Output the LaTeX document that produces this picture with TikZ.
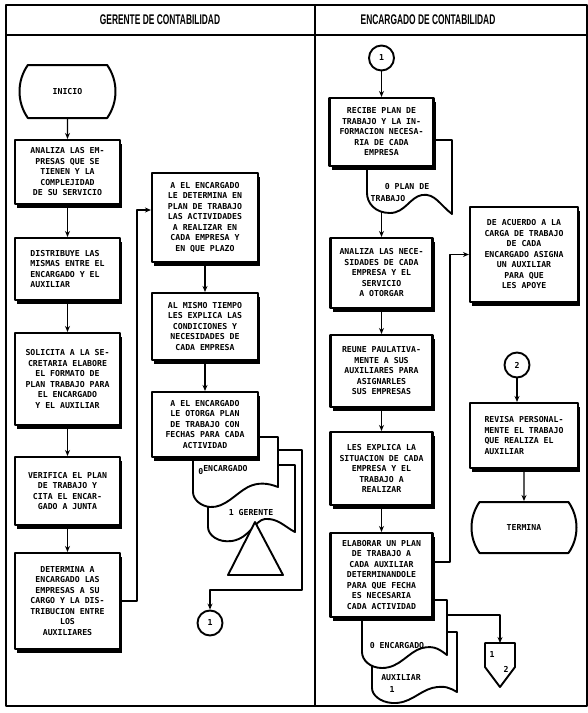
\documentclass[tikz,border=0pt]{standalone}
\usepackage{fontspec}
\usepackage{graphicx}
\setmainfont{DejaVu Sans}
\newfontfamily\boxfont{DejaVu Sans Mono}
\newfontfamily\headfont{Liberation Sans}
\usetikzlibrary{shapes.misc,shadows,arrows.meta,calc}
\begin{document}
\begin{tikzpicture}[x=1pt,y=-1pt,line join=round,
  txt/.style={font=\boxfont\bfseries\fontsize{8.2}{10.5}\selectfont, inner sep=0pt},
  proc/.style={txt, draw, line width=2.1pt, fill=white, align=center,
    drop shadow={shadow xshift=2pt, shadow yshift=-3.5pt, fill=black, opacity=1}},
  term/.style={txt, draw, line width=2pt, fill=white, rounded rectangle, rounded rectangle arc length=70},
  conncirc/.style={txt, draw, circle, line width=1.9pt, fill=white, minimum size=25pt},
  conn/.style={line width=1.4pt, -{Stealth[length=6pt,width=5pt]}},
  docline/.style={line width=1.9pt, fill=white},
  frameline/.style={line width=1.2pt},
  headtxt/.style={font=\headfont\bfseries\fontsize{14}{14}\selectfont, inner sep=0pt}]
\useasboundingbox (0,0) rectangle (588,713);
\fill[white] (0,0) rectangle (588,713);
% frame
\draw[frameline] (6,5) rectangle (587,706);
\draw[frameline] (6,35) -- (587,35);
\draw[frameline] (315,5) -- (315,706);
\node[headtxt] (h1) at (160,20) {\scalebox{0.6}[1]{GERENTE DE CONTABILIDAD}};
\node[headtxt] (h2) at (428,20) {\scalebox{0.6}[1]{ENCARGADO DE CONTABILIDAD}};

% ---------- left lane documents ----------
\draw[docline] (208,465) -- (295,465) -- (295,532) .. controls (285,527) and (278,518) .. (265,519) .. controls (255,520) and (250,538) .. (232,541) .. controls (218,543) and (208,535) .. (208,527) -- cycle;
\draw[docline] (193,437) -- (278,437) -- (278,487) .. controls (268,483) and (258,482) .. (248,487) .. controls (235,494) and (225,508) .. (210,507) .. controls (200,506) and (193,499) .. (193,492) -- cycle;
\draw[docline] (255,522) -- (283,575) -- (228,575) -- cycle;
\node[txt] (dA1) at (223,470) {\raisebox{-3pt}{0}ENCARGADO};
\node[txt] (dB1) at (251,513) {1 GERENTE};
\coordinate (dAr) at (278,450);

% ---------- left lane nodes ----------
\node[term, minimum width=96pt, minimum height=53pt] (ini) at (67.5,91.5) {INICIO};
\node[proc, minimum width=105pt, minimum height=64pt] (b1) at (67.5,172) {ANALIZA LAS EM-\\PRESAS QUE SE\\TIENEN Y LA\\COMPLEJIDAD\\DE SU SERVICIO};
\node[proc, minimum width=105pt, minimum height=62pt, align=left] (b2) at (67.5,269) {DISTRIBUYE LAS\\MISMAS ENTRE EL\\ENCARGADO Y EL\\AUXILIAR};
\node[proc, minimum width=105pt, minimum height=92pt] (b3) at (67.5,379) {SOLICITA A LA SE-\\CRETARIA ELABORE\\EL FORMATO DE\\PLAN TRABAJO PARA\\EL ENCARGADO\\Y EL AUXILIAR};
\node[proc, minimum width=105pt, minimum height=68pt] (b4) at (67.5,491) {VERIFICA EL PLAN\\DE TRABAJO Y\\CITA EL ENCAR-\\GADO A JUNTA};
\node[proc, minimum width=105pt, minimum height=96pt] (b5) at (67.5,601) {DETERMINA A\\ENCARGADO LAS\\EMPRESAS A SU\\CARGO Y LA DIS-\\TRIBUCION ENTRE\\LOS\\AUXILIARES};
\node[proc, minimum width=106pt, minimum height=89pt] (b6) at (205,217.5) {A EL ENCARGADO\\LE DETERMINA EN\\PLAN DE TRABAJO\\LAS ACTIVIDADES\\A REALIZAR EN\\CADA EMPRESA Y\\EN QUE PLAZO};
\node[proc, minimum width=106pt, minimum height=67pt] (b7) at (205,326.5) {AL MISMO TIEMPO\\LES EXPLICA LAS\\CONDICIONES Y\\NECESIDADES DE\\CADA EMPRESA};
\node[proc, minimum width=106pt, minimum height=65pt] (b8) at (205,424.5) {A EL ENCARGADO\\LE OTORGA PLAN\\DE TRABAJO CON\\FECHAS PARA CADA\\ACTIVIDAD};
\node[conncirc] (cl1) at (210,623) {1};

% ---------- right lane documents ----------
\draw[docline] (367,140) -- (452,140) -- (452,214) .. controls (440,205) and (435,193) .. (422,195) .. controls (410,197) and (405,213) .. (390,213) .. controls (375,213) and (367,203) .. (367,193) -- cycle;
\node[txt] (dP1) at (407,187) {0 PLAN DE};
\node[txt] (dP2) at (388,199) {TRABAJO};
\coordinate (dPb) at (381.5,212);

\draw[docline] (372,632) -- (457,632) -- (457,692) .. controls (450,688) and (445,685) .. (432,688) .. controls (418,692) and (410,704) .. (392,703) .. controls (380,702) and (372,695) .. (372,688) -- cycle;
\draw[docline] (362,600) -- (447,600) -- (447,655) .. controls (440,650) and (435,645) .. (422,648) .. controls (408,652) and (400,668) .. (382,668) .. controls (370,668) and (362,660) .. (362,652) -- cycle;
\node[txt] (dR1) at (397,646) {0 ENCARGADO};
\node[txt] (dR2) at (401,678) {AUXILIAR};
\node[txt] (dR3) at (392,690) {1};
\coordinate (dRr) at (447,615);

\draw[docline] (485,643) -- (515,643) -- (515,667) -- (500,687) -- (485,667) -- cycle;
\coordinate (offp) at (500,643);
\node[txt] (op1) at (492,655) {1};
\node[txt] (op2) at (506,669) {2};

% ---------- right lane nodes ----------
\node[conncirc] (c1) at (381.5,58) {1};
\node[proc, minimum width=104pt, minimum height=68pt] (r1) at (381.5,132) {RECIBE PLAN DE\\TRABAJO Y LA IN-\\FORMACION NECESA-\\RIA DE CADA\\EMPRESA};
\node[proc, minimum width=102pt, minimum height=70pt] (r2) at (381.5,273) {ANALIZA LAS NECE-\\SIDADES DE CADA\\EMPRESA Y EL\\SERVICIO\\A OTORGAR};
\node[proc, minimum width=102pt, minimum height=72pt] (r3) at (381.5,371) {REUNE PAULATIVA-\\MENTE A SUS\\AUXILIARES PARA\\ASIGNARLES\\SUS EMPRESAS};
\node[proc, minimum width=102pt, minimum height=73pt] (r4) at (381.5,468.5) {LES EXPLICA LA\\SITUACION DE CADA\\EMPRESA Y EL\\TRABAJO A\\REALIZAR};
\node[proc, minimum width=102pt, minimum height=84pt] (r5) at (381.5,575) {ELABORAR UN PLAN\\DE TRABAJO A\\CADA AUXILIAR\\DETERMINANDOLE\\PARA QUE FECHA\\ES NECESARIA\\CADA ACTIVIDAD};
\node[proc, minimum width=108pt, minimum height=95pt] (r6) at (524,254.5) {DE ACUERDO A LA\\CARGA DE TRABAJO\\DE CADA\\ENCARGADO ASIGNA\\UN AUXILIAR\\PARA QUE\\LES APOYE};
\node[conncirc] (c2) at (517,365) {2};
\node[proc, minimum width=108pt, minimum height=65pt, align=left] (r7) at (524,435.5) {REVISA PERSONAL-\\MENTE EL TRABAJO\\QUE REALIZA EL\\AUXILIAR};
\node[term, minimum width=105pt, minimum height=51pt] (ter) at (524,527.5) {TERMINA};

% ---------- connectors ----------
\draw[conn] (ini) -- (b1);
\draw[conn] (b1) -- (b2);
\draw[conn] (b2) -- (b3);
\draw[conn] (b3) -- (b4);
\draw[conn] (b4) -- (b5);
\draw[conn] (b5.east) -- (137,601) |- ([yshift=7.5pt]b6.west);
\draw[conn] (b6) -- (b7);
\draw[conn] (b7) -- (b8);
\draw[conn] (dAr) -- (302,450) -- (302,590) -| (cl1.north);

\draw[conn] (c1) -- (r1);
\draw[conn] (dPb) -- (r2.north);
\draw[conn] (r2) -- (r3);
\draw[conn] (r3) -- (r4);
\draw[conn] (r4) -- (r5);
\draw[conn] ([yshift=13pt]r5.east) -- (450,562) |- (r6.west);
\draw[conn] (c2.south) -- (c2.south |- r7.north);
\draw[conn] (r7) -- (ter);
\draw[conn] (dRr) -| (offp);
\end{tikzpicture}
\end{document}
